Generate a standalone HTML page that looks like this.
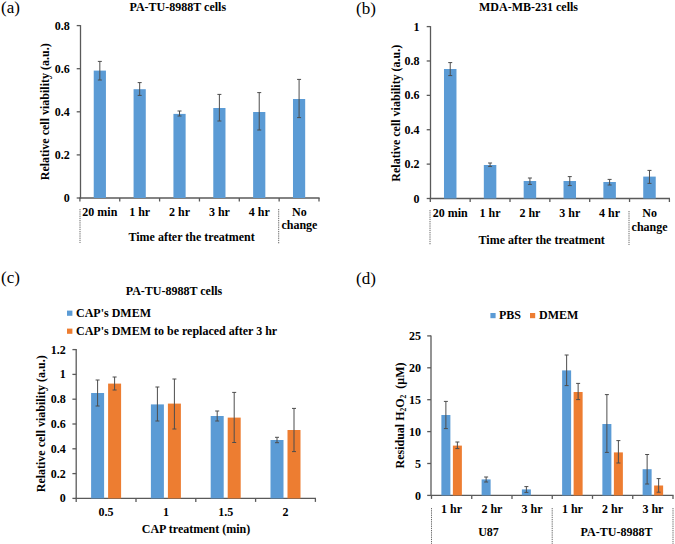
<!DOCTYPE html>
<html><head><meta charset="utf-8"><style>
html,body{margin:0;padding:0;background:#fff;}
body{width:675px;height:544px;overflow:hidden;}
svg{display:block;font-family:"Liberation Serif",serif;}
text{fill:#000;}
</style></head><body>
<svg width="675" height="544" viewBox="0 0 675 544">
<rect width="675" height="544" fill="#fff"/>
<text x="1.0" y="12.6" text-anchor="start" font-size="17" font-weight="normal">(a)</text>
<text x="177.8" y="11" text-anchor="middle" font-size="12" font-weight="bold">PA-TU-8988T cells</text>
<line x1="80.5" y1="25.1" x2="80.5" y2="198.6" stroke="#5a5a5a" stroke-width="1.3"/>
<line x1="76.7" y1="198.0" x2="80.5" y2="198.0" stroke="#5a5a5a" stroke-width="1.3"/>
<text x="69.7" y="202.0" text-anchor="end" font-size="12" font-weight="bold">0</text>
<line x1="76.7" y1="154.9" x2="80.5" y2="154.9" stroke="#5a5a5a" stroke-width="1.3"/>
<text x="69.7" y="158.9" text-anchor="end" font-size="12" font-weight="bold">0.2</text>
<line x1="76.7" y1="111.8" x2="80.5" y2="111.8" stroke="#5a5a5a" stroke-width="1.3"/>
<text x="69.7" y="115.8" text-anchor="end" font-size="12" font-weight="bold">0.4</text>
<line x1="76.7" y1="68.70000000000002" x2="80.5" y2="68.70000000000002" stroke="#5a5a5a" stroke-width="1.3"/>
<text x="69.7" y="72.7" text-anchor="end" font-size="12" font-weight="bold">0.6</text>
<line x1="76.7" y1="25.599999999999994" x2="80.5" y2="25.599999999999994" stroke="#5a5a5a" stroke-width="1.3"/>
<text x="69.7" y="29.6" text-anchor="end" font-size="12" font-weight="bold">0.8</text>
<line x1="79.30000000000001" y1="198.0" x2="319.6" y2="198.0" stroke="#5a5a5a" stroke-width="1.3"/>
<line x1="79.9" y1="198.0" x2="79.9" y2="201.5" stroke="#5a5a5a" stroke-width="1.3"/>
<line x1="119.75" y1="198.0" x2="119.75" y2="201.5" stroke="#5a5a5a" stroke-width="1.3"/>
<line x1="159.6" y1="198.0" x2="159.6" y2="201.5" stroke="#5a5a5a" stroke-width="1.3"/>
<line x1="199.45" y1="198.0" x2="199.45" y2="201.5" stroke="#5a5a5a" stroke-width="1.3"/>
<line x1="239.3" y1="198.0" x2="239.3" y2="201.5" stroke="#5a5a5a" stroke-width="1.3"/>
<line x1="279.15" y1="198.0" x2="279.15" y2="201.5" stroke="#5a5a5a" stroke-width="1.3"/>
<line x1="319.0" y1="198.0" x2="319.0" y2="201.5" stroke="#5a5a5a" stroke-width="1.3"/>
<rect x="93.73" y="70.6" width="12.2" height="127.4" fill="#5B9BD5"/>
<rect x="133.58" y="89.2" width="12.2" height="108.8" fill="#5B9BD5"/>
<rect x="173.43" y="113.9" width="12.2" height="84.1" fill="#5B9BD5"/>
<rect x="213.28" y="108" width="12.2" height="90.0" fill="#5B9BD5"/>
<rect x="253.13" y="112" width="12.2" height="86.0" fill="#5B9BD5"/>
<rect x="292.98" y="99" width="12.2" height="99.0" fill="#5B9BD5"/>
<line x1="99.83" y1="61.4" x2="99.83" y2="80" stroke="#4d4d4d" stroke-width="1.0"/>
<line x1="97.83" y1="61.4" x2="101.83" y2="61.4" stroke="#4d4d4d" stroke-width="1.0"/>
<line x1="97.83" y1="80" x2="101.83" y2="80" stroke="#4d4d4d" stroke-width="1.0"/>
<line x1="139.68" y1="82.6" x2="139.68" y2="95.4" stroke="#4d4d4d" stroke-width="1.0"/>
<line x1="137.68" y1="82.6" x2="141.68" y2="82.6" stroke="#4d4d4d" stroke-width="1.0"/>
<line x1="137.68" y1="95.4" x2="141.68" y2="95.4" stroke="#4d4d4d" stroke-width="1.0"/>
<line x1="179.53" y1="111" x2="179.53" y2="116" stroke="#4d4d4d" stroke-width="1.0"/>
<line x1="177.53" y1="111" x2="181.53" y2="111" stroke="#4d4d4d" stroke-width="1.0"/>
<line x1="177.53" y1="116" x2="181.53" y2="116" stroke="#4d4d4d" stroke-width="1.0"/>
<line x1="219.38" y1="94.4" x2="219.38" y2="121" stroke="#4d4d4d" stroke-width="1.0"/>
<line x1="217.38" y1="94.4" x2="221.38" y2="94.4" stroke="#4d4d4d" stroke-width="1.0"/>
<line x1="217.38" y1="121" x2="221.38" y2="121" stroke="#4d4d4d" stroke-width="1.0"/>
<line x1="259.23" y1="92.6" x2="259.23" y2="130" stroke="#4d4d4d" stroke-width="1.0"/>
<line x1="257.23" y1="92.6" x2="261.23" y2="92.6" stroke="#4d4d4d" stroke-width="1.0"/>
<line x1="257.23" y1="130" x2="261.23" y2="130" stroke="#4d4d4d" stroke-width="1.0"/>
<line x1="299.08" y1="79.4" x2="299.08" y2="117.6" stroke="#4d4d4d" stroke-width="1.0"/>
<line x1="297.08" y1="79.4" x2="301.08" y2="79.4" stroke="#4d4d4d" stroke-width="1.0"/>
<line x1="297.08" y1="117.6" x2="301.08" y2="117.6" stroke="#4d4d4d" stroke-width="1.0"/>
<text x="99.83" y="215.7" text-anchor="middle" font-size="12" font-weight="bold">20 min</text>
<text x="139.68" y="215.7" text-anchor="middle" font-size="12" font-weight="bold">1 hr</text>
<text x="179.53" y="215.7" text-anchor="middle" font-size="12" font-weight="bold">2 hr</text>
<text x="219.38" y="215.7" text-anchor="middle" font-size="12" font-weight="bold">3 hr</text>
<text x="259.23" y="215.7" text-anchor="middle" font-size="12" font-weight="bold">4 hr</text>
<text x="299.4" y="215.5" text-anchor="middle" font-size="12" font-weight="bold">No</text>
<text x="299.4" y="229.4" text-anchor="middle" font-size="12" font-weight="bold">change</text>
<text x="191.6" y="240.8" text-anchor="middle" font-size="12" font-weight="bold">Time after the treatment</text>
<line x1="80" y1="209" x2="80" y2="243" stroke="#6a6a6a" stroke-width="1.0" stroke-dasharray="1.3,0.9"/>
<line x1="278.7" y1="209" x2="278.7" y2="243.5" stroke="#6a6a6a" stroke-width="1.0" stroke-dasharray="1.3,0.9"/>
<text transform="translate(49.4,111.8) rotate(-90)" text-anchor="middle" font-size="12" font-weight="bold">Relative cell viability (a.u.)</text>
<text x="356.0" y="13.9" text-anchor="start" font-size="17" font-weight="normal">(b)</text>
<text x="528.5" y="11" text-anchor="middle" font-size="12" font-weight="bold">MDA-MB-231 cells</text>
<line x1="430.5" y1="26.1" x2="430.5" y2="199.1" stroke="#5a5a5a" stroke-width="1.3"/>
<line x1="426.7" y1="198.5" x2="430.5" y2="198.5" stroke="#5a5a5a" stroke-width="1.3"/>
<text x="419.6" y="202.5" text-anchor="end" font-size="12" font-weight="bold">0</text>
<line x1="426.7" y1="164.12" x2="430.5" y2="164.12" stroke="#5a5a5a" stroke-width="1.3"/>
<text x="419.6" y="168.12" text-anchor="end" font-size="12" font-weight="bold">0.2</text>
<line x1="426.7" y1="129.74" x2="430.5" y2="129.74" stroke="#5a5a5a" stroke-width="1.3"/>
<text x="419.6" y="133.74" text-anchor="end" font-size="12" font-weight="bold">0.4</text>
<line x1="426.7" y1="95.36" x2="430.5" y2="95.36" stroke="#5a5a5a" stroke-width="1.3"/>
<text x="419.6" y="99.36" text-anchor="end" font-size="12" font-weight="bold">0.6</text>
<line x1="426.7" y1="60.97999999999999" x2="430.5" y2="60.97999999999999" stroke="#5a5a5a" stroke-width="1.3"/>
<text x="419.6" y="64.98" text-anchor="end" font-size="12" font-weight="bold">0.8</text>
<line x1="426.7" y1="26.599999999999994" x2="430.5" y2="26.599999999999994" stroke="#5a5a5a" stroke-width="1.3"/>
<text x="419.6" y="30.6" text-anchor="end" font-size="12" font-weight="bold">1</text>
<line x1="429.7" y1="198.5" x2="670.0000000000001" y2="198.5" stroke="#5a5a5a" stroke-width="1.3"/>
<line x1="430.3" y1="198.5" x2="430.3" y2="202.0" stroke="#5a5a5a" stroke-width="1.3"/>
<line x1="470.15" y1="198.5" x2="470.15" y2="202.0" stroke="#5a5a5a" stroke-width="1.3"/>
<line x1="510.0" y1="198.5" x2="510.0" y2="202.0" stroke="#5a5a5a" stroke-width="1.3"/>
<line x1="549.85" y1="198.5" x2="549.85" y2="202.0" stroke="#5a5a5a" stroke-width="1.3"/>
<line x1="589.7" y1="198.5" x2="589.7" y2="202.0" stroke="#5a5a5a" stroke-width="1.3"/>
<line x1="629.55" y1="198.5" x2="629.55" y2="202.0" stroke="#5a5a5a" stroke-width="1.3"/>
<line x1="669.4" y1="198.5" x2="669.4" y2="202.0" stroke="#5a5a5a" stroke-width="1.3"/>
<rect x="443.98" y="69" width="12.5" height="129.5" fill="#5B9BD5"/>
<rect x="483.83" y="165" width="12.5" height="33.5" fill="#5B9BD5"/>
<rect x="523.67" y="181" width="12.5" height="17.5" fill="#5B9BD5"/>
<rect x="563.52" y="181" width="12.5" height="17.5" fill="#5B9BD5"/>
<rect x="603.37" y="182" width="12.5" height="16.5" fill="#5B9BD5"/>
<rect x="643.23" y="176.6" width="12.5" height="21.9" fill="#5B9BD5"/>
<line x1="450.23" y1="62.6" x2="450.23" y2="75.6" stroke="#4d4d4d" stroke-width="1.0"/>
<line x1="448.23" y1="62.6" x2="452.23" y2="62.6" stroke="#4d4d4d" stroke-width="1.0"/>
<line x1="448.23" y1="75.6" x2="452.23" y2="75.6" stroke="#4d4d4d" stroke-width="1.0"/>
<line x1="490.08" y1="163" x2="490.08" y2="166.4" stroke="#4d4d4d" stroke-width="1.0"/>
<line x1="488.08" y1="163" x2="492.08" y2="163" stroke="#4d4d4d" stroke-width="1.0"/>
<line x1="488.08" y1="166.4" x2="492.08" y2="166.4" stroke="#4d4d4d" stroke-width="1.0"/>
<line x1="529.92" y1="178" x2="529.92" y2="184.4" stroke="#4d4d4d" stroke-width="1.0"/>
<line x1="527.92" y1="178" x2="531.92" y2="178" stroke="#4d4d4d" stroke-width="1.0"/>
<line x1="527.92" y1="184.4" x2="531.92" y2="184.4" stroke="#4d4d4d" stroke-width="1.0"/>
<line x1="569.77" y1="176.6" x2="569.77" y2="185.6" stroke="#4d4d4d" stroke-width="1.0"/>
<line x1="567.77" y1="176.6" x2="571.77" y2="176.6" stroke="#4d4d4d" stroke-width="1.0"/>
<line x1="567.77" y1="185.6" x2="571.77" y2="185.6" stroke="#4d4d4d" stroke-width="1.0"/>
<line x1="609.62" y1="179.4" x2="609.62" y2="185" stroke="#4d4d4d" stroke-width="1.0"/>
<line x1="607.62" y1="179.4" x2="611.62" y2="179.4" stroke="#4d4d4d" stroke-width="1.0"/>
<line x1="607.62" y1="185" x2="611.62" y2="185" stroke="#4d4d4d" stroke-width="1.0"/>
<line x1="649.48" y1="170.4" x2="649.48" y2="183.4" stroke="#4d4d4d" stroke-width="1.0"/>
<line x1="647.48" y1="170.4" x2="651.48" y2="170.4" stroke="#4d4d4d" stroke-width="1.0"/>
<line x1="647.48" y1="183.4" x2="651.48" y2="183.4" stroke="#4d4d4d" stroke-width="1.0"/>
<text x="450.23" y="217.4" text-anchor="middle" font-size="12" font-weight="bold">20 min</text>
<text x="490.08" y="217.4" text-anchor="middle" font-size="12" font-weight="bold">1 hr</text>
<text x="529.92" y="217.4" text-anchor="middle" font-size="12" font-weight="bold">2 hr</text>
<text x="569.77" y="217.4" text-anchor="middle" font-size="12" font-weight="bold">3 hr</text>
<text x="609.62" y="217.4" text-anchor="middle" font-size="12" font-weight="bold">4 hr</text>
<text x="649.6" y="217.4" text-anchor="middle" font-size="12" font-weight="bold">No</text>
<text x="649.6" y="231.4" text-anchor="middle" font-size="12" font-weight="bold">change</text>
<text x="541.7" y="243.6" text-anchor="middle" font-size="12" font-weight="bold">Time after the treatment</text>
<line x1="430" y1="210" x2="430" y2="245" stroke="#6a6a6a" stroke-width="1.0" stroke-dasharray="1.3,0.9"/>
<line x1="629.0" y1="211" x2="629.0" y2="245" stroke="#6a6a6a" stroke-width="1.0" stroke-dasharray="1.3,0.9"/>
<text transform="translate(399.6,113.2) rotate(-90)" text-anchor="middle" font-size="12" font-weight="bold">Relative cell viability (a.u.)</text>
<text x="1.0" y="282.6" text-anchor="start" font-size="17" font-weight="normal">(c)</text>
<text x="174" y="295.1" text-anchor="middle" font-size="12" font-weight="bold">PA-TU-8988T cells</text>
<rect x="67" y="310.6" width="5.4" height="5.2" fill="#5B9BD5"/>
<text x="76" y="317.4" text-anchor="start" font-size="12" font-weight="bold">CAP's DMEM</text>
<rect x="67" y="328.6" width="5.4" height="5.2" fill="#ED7D31"/>
<text x="76" y="335.4" text-anchor="start" font-size="12" font-weight="bold">CAP's DMEM to be replaced after 3 hr</text>
<line x1="76.2" y1="349.1" x2="76.2" y2="499.0" stroke="#5a5a5a" stroke-width="1.3"/>
<line x1="72.4" y1="498.4" x2="76.2" y2="498.4" stroke="#5a5a5a" stroke-width="1.3"/>
<text x="65.8" y="502.4" text-anchor="end" font-size="12" font-weight="bold">0</text>
<line x1="72.4" y1="473.59999999999997" x2="76.2" y2="473.59999999999997" stroke="#5a5a5a" stroke-width="1.3"/>
<text x="65.8" y="477.6" text-anchor="end" font-size="12" font-weight="bold">0.2</text>
<line x1="72.4" y1="448.79999999999995" x2="76.2" y2="448.79999999999995" stroke="#5a5a5a" stroke-width="1.3"/>
<text x="65.8" y="452.8" text-anchor="end" font-size="12" font-weight="bold">0.4</text>
<line x1="72.4" y1="424.0" x2="76.2" y2="424.0" stroke="#5a5a5a" stroke-width="1.3"/>
<text x="65.8" y="428.0" text-anchor="end" font-size="12" font-weight="bold">0.6</text>
<line x1="72.4" y1="399.2" x2="76.2" y2="399.2" stroke="#5a5a5a" stroke-width="1.3"/>
<text x="65.8" y="403.2" text-anchor="end" font-size="12" font-weight="bold">0.8</text>
<line x1="72.4" y1="374.4" x2="76.2" y2="374.4" stroke="#5a5a5a" stroke-width="1.3"/>
<text x="65.8" y="378.4" text-anchor="end" font-size="12" font-weight="bold">1</text>
<line x1="72.4" y1="349.6" x2="76.2" y2="349.6" stroke="#5a5a5a" stroke-width="1.3"/>
<text x="65.8" y="353.6" text-anchor="end" font-size="12" font-weight="bold">1.2</text>
<line x1="75.60000000000001" y1="498.4" x2="316.0" y2="498.4" stroke="#5a5a5a" stroke-width="1.3"/>
<line x1="76.2" y1="498.4" x2="76.2" y2="501.9" stroke="#5a5a5a" stroke-width="1.3"/>
<line x1="136.0" y1="498.4" x2="136.0" y2="501.9" stroke="#5a5a5a" stroke-width="1.3"/>
<line x1="195.8" y1="498.4" x2="195.8" y2="501.9" stroke="#5a5a5a" stroke-width="1.3"/>
<line x1="255.6" y1="498.4" x2="255.6" y2="501.9" stroke="#5a5a5a" stroke-width="1.3"/>
<line x1="315.4" y1="498.4" x2="315.4" y2="501.9" stroke="#5a5a5a" stroke-width="1.3"/>
<rect x="91.1" y="393" width="13" height="105.4" fill="#5B9BD5"/>
<rect x="108.1" y="383.6" width="13" height="114.8" fill="#ED7D31"/>
<rect x="150.9" y="404.4" width="13" height="94.0" fill="#5B9BD5"/>
<rect x="167.9" y="403.6" width="13" height="94.8" fill="#ED7D31"/>
<rect x="210.7" y="416" width="13" height="82.4" fill="#5B9BD5"/>
<rect x="227.7" y="417.6" width="13" height="80.8" fill="#ED7D31"/>
<rect x="270.5" y="440" width="13" height="58.4" fill="#5B9BD5"/>
<rect x="287.5" y="430" width="13" height="68.4" fill="#ED7D31"/>
<line x1="97.6" y1="380" x2="97.6" y2="406" stroke="#4d4d4d" stroke-width="1.0"/>
<line x1="95.6" y1="380" x2="99.6" y2="380" stroke="#4d4d4d" stroke-width="1.0"/>
<line x1="95.6" y1="406" x2="99.6" y2="406" stroke="#4d4d4d" stroke-width="1.0"/>
<line x1="114.6" y1="377" x2="114.6" y2="390" stroke="#4d4d4d" stroke-width="1.0"/>
<line x1="112.6" y1="377" x2="116.6" y2="377" stroke="#4d4d4d" stroke-width="1.0"/>
<line x1="112.6" y1="390" x2="116.6" y2="390" stroke="#4d4d4d" stroke-width="1.0"/>
<line x1="157.39999999999998" y1="387" x2="157.39999999999998" y2="421" stroke="#4d4d4d" stroke-width="1.0"/>
<line x1="155.39999999999998" y1="387" x2="159.39999999999998" y2="387" stroke="#4d4d4d" stroke-width="1.0"/>
<line x1="155.39999999999998" y1="421" x2="159.39999999999998" y2="421" stroke="#4d4d4d" stroke-width="1.0"/>
<line x1="174.39999999999998" y1="379" x2="174.39999999999998" y2="429" stroke="#4d4d4d" stroke-width="1.0"/>
<line x1="172.39999999999998" y1="379" x2="176.39999999999998" y2="379" stroke="#4d4d4d" stroke-width="1.0"/>
<line x1="172.39999999999998" y1="429" x2="176.39999999999998" y2="429" stroke="#4d4d4d" stroke-width="1.0"/>
<line x1="217.2" y1="411" x2="217.2" y2="421" stroke="#4d4d4d" stroke-width="1.0"/>
<line x1="215.2" y1="411" x2="219.2" y2="411" stroke="#4d4d4d" stroke-width="1.0"/>
<line x1="215.2" y1="421" x2="219.2" y2="421" stroke="#4d4d4d" stroke-width="1.0"/>
<line x1="234.2" y1="392.4" x2="234.2" y2="442.5" stroke="#4d4d4d" stroke-width="1.0"/>
<line x1="232.2" y1="392.4" x2="236.2" y2="392.4" stroke="#4d4d4d" stroke-width="1.0"/>
<line x1="232.2" y1="442.5" x2="236.2" y2="442.5" stroke="#4d4d4d" stroke-width="1.0"/>
<line x1="277.0" y1="437.3" x2="277.0" y2="442.7" stroke="#4d4d4d" stroke-width="1.0"/>
<line x1="275.0" y1="437.3" x2="279.0" y2="437.3" stroke="#4d4d4d" stroke-width="1.0"/>
<line x1="275.0" y1="442.7" x2="279.0" y2="442.7" stroke="#4d4d4d" stroke-width="1.0"/>
<line x1="294.0" y1="408.4" x2="294.0" y2="451.6" stroke="#4d4d4d" stroke-width="1.0"/>
<line x1="292.0" y1="408.4" x2="296.0" y2="408.4" stroke="#4d4d4d" stroke-width="1.0"/>
<line x1="292.0" y1="451.6" x2="296.0" y2="451.6" stroke="#4d4d4d" stroke-width="1.0"/>
<text x="106.1" y="516.4" text-anchor="middle" font-size="12" font-weight="bold">0.5</text>
<text x="165.9" y="516.4" text-anchor="middle" font-size="12" font-weight="bold">1</text>
<text x="225.7" y="516.4" text-anchor="middle" font-size="12" font-weight="bold">1.5</text>
<text x="285.5" y="516.4" text-anchor="middle" font-size="12" font-weight="bold">2</text>
<text x="196" y="533" text-anchor="middle" font-size="12" font-weight="bold">CAP treatment (min)</text>
<text transform="translate(45.3,423.8) rotate(-90)" text-anchor="middle" font-size="12" font-weight="bold">Relative cell viability (a.u.)</text>
<text x="356.0" y="284.4" text-anchor="start" font-size="17" font-weight="normal">(d)</text>
<rect x="490.4" y="313" width="5.2" height="5.2" fill="#5B9BD5"/>
<text x="499" y="319.4" text-anchor="start" font-size="12" font-weight="bold">PBS</text>
<rect x="530" y="313" width="5.2" height="5.2" fill="#ED7D31"/>
<text x="539" y="319.4" text-anchor="start" font-size="12" font-weight="bold">DMEM</text>
<line x1="431.0" y1="335.4" x2="431.0" y2="496.0" stroke="#5a5a5a" stroke-width="1.3"/>
<line x1="427.2" y1="495.4" x2="431.0" y2="495.4" stroke="#5a5a5a" stroke-width="1.3"/>
<text x="421.0" y="499.9" text-anchor="end" font-size="12" font-weight="bold">0</text>
<line x1="427.2" y1="463.5" x2="431.0" y2="463.5" stroke="#5a5a5a" stroke-width="1.3"/>
<text x="421.0" y="468.0" text-anchor="end" font-size="12" font-weight="bold">5</text>
<line x1="427.2" y1="431.59999999999997" x2="431.0" y2="431.59999999999997" stroke="#5a5a5a" stroke-width="1.3"/>
<text x="421.0" y="436.1" text-anchor="end" font-size="12" font-weight="bold">10</text>
<line x1="427.2" y1="399.7" x2="431.0" y2="399.7" stroke="#5a5a5a" stroke-width="1.3"/>
<text x="421.0" y="404.2" text-anchor="end" font-size="12" font-weight="bold">15</text>
<line x1="427.2" y1="367.79999999999995" x2="431.0" y2="367.79999999999995" stroke="#5a5a5a" stroke-width="1.3"/>
<text x="421.0" y="372.3" text-anchor="end" font-size="12" font-weight="bold">20</text>
<line x1="427.2" y1="335.9" x2="431.0" y2="335.9" stroke="#5a5a5a" stroke-width="1.3"/>
<text x="421.0" y="340.4" text-anchor="end" font-size="12" font-weight="bold">25</text>
<line x1="430.9" y1="495.4" x2="673.6" y2="495.4" stroke="#5a5a5a" stroke-width="1.3"/>
<line x1="431.5" y1="495.4" x2="431.5" y2="498.9" stroke="#5a5a5a" stroke-width="1.3"/>
<line x1="471.75" y1="495.4" x2="471.75" y2="498.9" stroke="#5a5a5a" stroke-width="1.3"/>
<line x1="512.0" y1="495.4" x2="512.0" y2="498.9" stroke="#5a5a5a" stroke-width="1.3"/>
<line x1="552.25" y1="495.4" x2="552.25" y2="498.9" stroke="#5a5a5a" stroke-width="1.3"/>
<line x1="592.5" y1="495.4" x2="592.5" y2="498.9" stroke="#5a5a5a" stroke-width="1.3"/>
<line x1="632.75" y1="495.4" x2="632.75" y2="498.9" stroke="#5a5a5a" stroke-width="1.3"/>
<line x1="673.0" y1="495.4" x2="673.0" y2="498.9" stroke="#5a5a5a" stroke-width="1.3"/>
<rect x="441.38" y="415" width="9.0" height="80.4" fill="#5B9BD5"/>
<rect x="452.88" y="445.6" width="9.0" height="49.8" fill="#ED7D31"/>
<rect x="481.62" y="479.4" width="9.0" height="16.0" fill="#5B9BD5"/>
<rect x="521.88" y="489.4" width="9.0" height="6.0" fill="#5B9BD5"/>
<rect x="562.12" y="370.4" width="9.0" height="125.0" fill="#5B9BD5"/>
<rect x="573.62" y="392" width="9.0" height="103.4" fill="#ED7D31"/>
<rect x="602.38" y="424" width="9.0" height="71.4" fill="#5B9BD5"/>
<rect x="613.88" y="452.4" width="9.0" height="43.0" fill="#ED7D31"/>
<rect x="642.62" y="469.2" width="9.0" height="26.2" fill="#5B9BD5"/>
<rect x="654.12" y="485.5" width="9.0" height="9.9" fill="#ED7D31"/>
<line x1="445.875" y1="401.4" x2="445.875" y2="428.6" stroke="#4d4d4d" stroke-width="1.0"/>
<line x1="443.875" y1="401.4" x2="447.875" y2="401.4" stroke="#4d4d4d" stroke-width="1.0"/>
<line x1="443.875" y1="428.6" x2="447.875" y2="428.6" stroke="#4d4d4d" stroke-width="1.0"/>
<line x1="457.375" y1="442" x2="457.375" y2="448.6" stroke="#4d4d4d" stroke-width="1.0"/>
<line x1="455.375" y1="442" x2="459.375" y2="442" stroke="#4d4d4d" stroke-width="1.0"/>
<line x1="455.375" y1="448.6" x2="459.375" y2="448.6" stroke="#4d4d4d" stroke-width="1.0"/>
<line x1="486.125" y1="477" x2="486.125" y2="482" stroke="#4d4d4d" stroke-width="1.0"/>
<line x1="484.125" y1="477" x2="488.125" y2="477" stroke="#4d4d4d" stroke-width="1.0"/>
<line x1="484.125" y1="482" x2="488.125" y2="482" stroke="#4d4d4d" stroke-width="1.0"/>
<line x1="526.375" y1="486.6" x2="526.375" y2="492.4" stroke="#4d4d4d" stroke-width="1.0"/>
<line x1="524.375" y1="486.6" x2="528.375" y2="486.6" stroke="#4d4d4d" stroke-width="1.0"/>
<line x1="524.375" y1="492.4" x2="528.375" y2="492.4" stroke="#4d4d4d" stroke-width="1.0"/>
<line x1="566.625" y1="355" x2="566.625" y2="385.6" stroke="#4d4d4d" stroke-width="1.0"/>
<line x1="564.625" y1="355" x2="568.625" y2="355" stroke="#4d4d4d" stroke-width="1.0"/>
<line x1="564.625" y1="385.6" x2="568.625" y2="385.6" stroke="#4d4d4d" stroke-width="1.0"/>
<line x1="578.125" y1="383.4" x2="578.125" y2="399.6" stroke="#4d4d4d" stroke-width="1.0"/>
<line x1="576.125" y1="383.4" x2="580.125" y2="383.4" stroke="#4d4d4d" stroke-width="1.0"/>
<line x1="576.125" y1="399.6" x2="580.125" y2="399.6" stroke="#4d4d4d" stroke-width="1.0"/>
<line x1="606.875" y1="394.6" x2="606.875" y2="452.4" stroke="#4d4d4d" stroke-width="1.0"/>
<line x1="604.875" y1="394.6" x2="608.875" y2="394.6" stroke="#4d4d4d" stroke-width="1.0"/>
<line x1="604.875" y1="452.4" x2="608.875" y2="452.4" stroke="#4d4d4d" stroke-width="1.0"/>
<line x1="618.375" y1="440.6" x2="618.375" y2="463" stroke="#4d4d4d" stroke-width="1.0"/>
<line x1="616.375" y1="440.6" x2="620.375" y2="440.6" stroke="#4d4d4d" stroke-width="1.0"/>
<line x1="616.375" y1="463" x2="620.375" y2="463" stroke="#4d4d4d" stroke-width="1.0"/>
<line x1="647.125" y1="454.5" x2="647.125" y2="484" stroke="#4d4d4d" stroke-width="1.0"/>
<line x1="645.125" y1="454.5" x2="649.125" y2="454.5" stroke="#4d4d4d" stroke-width="1.0"/>
<line x1="645.125" y1="484" x2="649.125" y2="484" stroke="#4d4d4d" stroke-width="1.0"/>
<line x1="658.625" y1="478.6" x2="658.625" y2="492.2" stroke="#4d4d4d" stroke-width="1.0"/>
<line x1="656.625" y1="478.6" x2="660.625" y2="478.6" stroke="#4d4d4d" stroke-width="1.0"/>
<line x1="656.625" y1="492.2" x2="660.625" y2="492.2" stroke="#4d4d4d" stroke-width="1.0"/>
<text x="451.62" y="513" text-anchor="middle" font-size="12" font-weight="bold">1 hr</text>
<text x="491.88" y="513" text-anchor="middle" font-size="12" font-weight="bold">2 hr</text>
<text x="532.12" y="513" text-anchor="middle" font-size="12" font-weight="bold">3 hr</text>
<text x="572.38" y="513" text-anchor="middle" font-size="12" font-weight="bold">1 hr</text>
<text x="612.62" y="513" text-anchor="middle" font-size="12" font-weight="bold">2 hr</text>
<text x="652.88" y="513" text-anchor="middle" font-size="12" font-weight="bold">3 hr</text>
<text x="488.5" y="535.8" text-anchor="middle" font-size="12" font-weight="bold">U87</text>
<text x="616.5" y="535.8" text-anchor="middle" font-size="12" font-weight="bold">PA-TU-8988T</text>
<line x1="431.5" y1="508" x2="431.5" y2="544" stroke="#6a6a6a" stroke-width="1.0" stroke-dasharray="1.3,0.9"/>
<line x1="552.2" y1="508" x2="552.2" y2="544" stroke="#6a6a6a" stroke-width="1.0" stroke-dasharray="1.3,0.9"/>
<line x1="673" y1="508" x2="673" y2="544" stroke="#6a6a6a" stroke-width="1.0" stroke-dasharray="1.3,0.9"/>
<text transform="translate(403.6,415.5) rotate(-90)" text-anchor="middle" font-size="12" font-weight="bold">Residual H<tspan font-size="7.5" dy="2.8">2</tspan><tspan dy="-2.8">O</tspan><tspan font-size="7.5" dy="2.8">2</tspan><tspan dy="-2.8" xml:space="preserve">  (μM)</tspan></text>
</svg>
</body></html>
